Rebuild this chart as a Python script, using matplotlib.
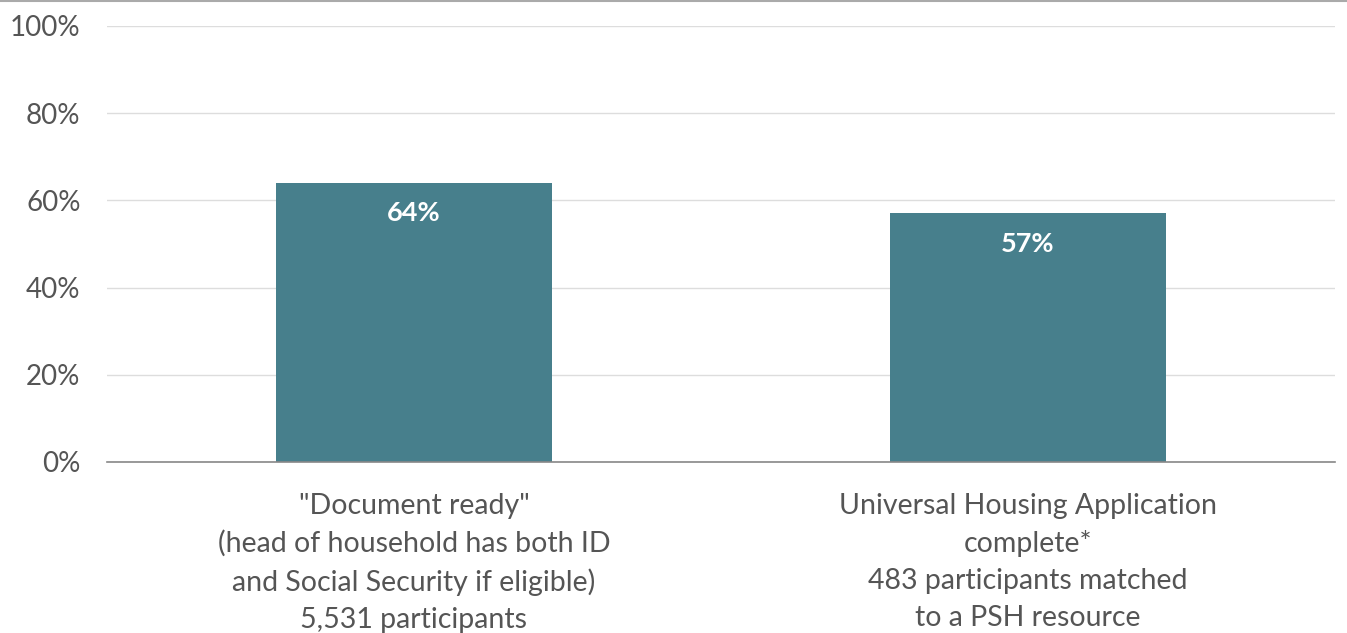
import matplotlib.pyplot as plt
from matplotlib.lines import Line2D

plt.rcParams['font.family'] = ['Lato', 'DejaVu Sans']

categories = [
    '"Document ready"\n(head of household has both ID\nand Social Security if eligible)\n5,531 participants',
    'Universal Housing Application\ncomplete*\n483 participants matched\nto a PSH resource',
]
values = [64, 57]
yticks = [0, 20, 40, 60, 80, 100]

bar_color = '#477f8c'
text_color = '#555555'

fig = plt.figure(figsize=(13.47, 6.33), dpi=100)
ax = fig.add_axes([107 / 1347, 1 - 462 / 633, (1335 - 107) / 1347, (462 - 26) / 633])

x = list(range(len(categories)))
bars = ax.bar(x, values, width=0.45, color=bar_color, zorder=3)

for b, v in zip(bars, values):
    ax.text(b.get_x() + b.get_width() / 2, v - 7, f'{v}%', ha='center', va='center',
            color='white', fontsize=19.5, fontweight='bold', zorder=4)

ax.set_xlim(-0.5, 1.5)
ax.set_ylim(0, 100)
ax.set_yticks(yticks)
ax.set_yticklabels([f'{t}%' for t in yticks])
ax.set_xticks(x)
ax.set_xticklabels(categories, linespacing=1.52)

ax.grid(axis='y', color='#dddddd', linewidth=1, zorder=0)
ax.tick_params(axis='y', length=0, pad=19, labelsize=20, labelcolor=text_color)
ax.tick_params(axis='x', length=0, pad=22, labelsize=20.5, labelcolor=text_color)
for s in ['top', 'right', 'left']:
    ax.spines[s].set_visible(False)
ax.spines['bottom'].set_color('#888888')
ax.spines['bottom'].set_linewidth(1.2)
ax.spines['bottom'].set_zorder(5)

# thin rule across the top edge
fig.add_artist(Line2D([0, 1], [0.998, 0.998], color='#aaaaaa', linewidth=1.5,
                      transform=fig.transFigure))

fig.savefig('out.png', dpi=100)
